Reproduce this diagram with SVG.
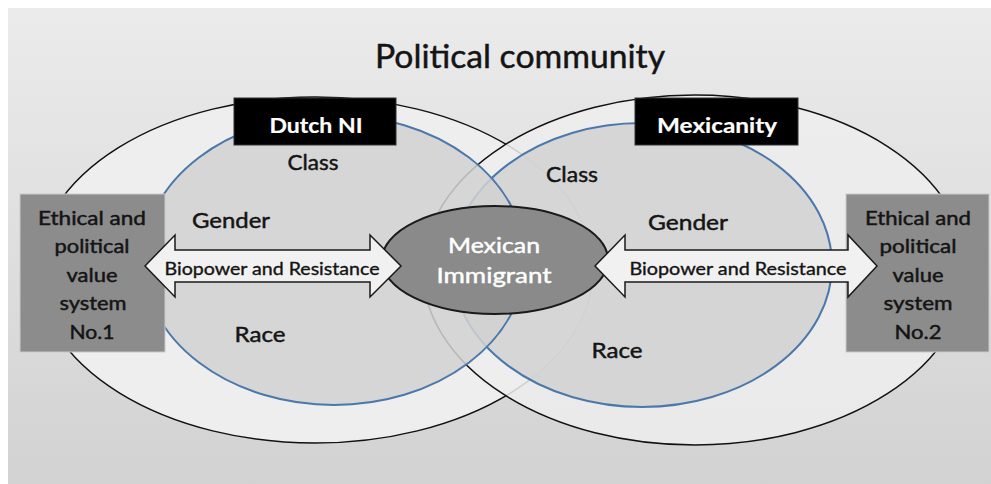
<svg xmlns="http://www.w3.org/2000/svg" width="991" height="484" viewBox="0 0 991 484">
  <defs>
    <linearGradient id="bg" x1="0" y1="0" x2="0" y2="1">
      <stop offset="0" stop-color="#ebebeb"/>
      <stop offset="1" stop-color="#d2d2d2"/>
    </linearGradient>
    <style>
      .txt { font-family: Lato, "Open Sans", "Liberation Sans", sans-serif; fill: #141414; stroke: #141414; stroke-width: 0.45; text-anchor: middle; }
      .lbl { font-size: 21px; }
      .box-txt { font-size: 18.5px; }
      .arrow-txt { font-size: 17.5px; stroke-width: 0.35; }
      .white { fill: #ffffff; stroke: #ffffff; }
      .bold { font-weight: bold; stroke-width: 0.2; }
      .outer { fill: #eeeeee; stroke: #111111; stroke-width: 1.5; }
      .inner { fill: #d2d2d2; fill-opacity: 0.86; stroke: #4a78aa; stroke-width: 2; }
      .system { fill: #8c8c8c; stroke: #c9c9c9; stroke-width: 1; }
      .tag { fill: #000000; stroke: #333333; stroke-width: 1; }
      .arrow { fill: #f1f1f1; stroke: #1a1a1a; stroke-width: 1.5; stroke-linejoin: miter; }
    </style>
  </defs>

  <!-- backdrop -->
  <rect x="0" y="0" width="991" height="484" fill="#ffffff"/>
  <rect x="8" y="8" width="983" height="476" fill="url(#bg)"/>

  <text class="txt" x="520" y="68" font-size="32" stroke-width="0.6" textLength="290" lengthAdjust="spacingAndGlyphs">Political community</text>

  <!-- community rings -->
  <g id="dutch-outer">
    <ellipse class="outer" cx="315" cy="270" rx="278" ry="173"/>
  </g>
  <g id="mexican-outer">
    <ellipse class="outer" cx="695" cy="270" rx="272" ry="175" fill-opacity="0.86"/>
  </g>
  <g id="mexicanity-circle">
    <ellipse class="inner" cx="642" cy="265" rx="190" ry="142"/>
    <text class="txt lbl" x="572" y="182" textLength="52" lengthAdjust="spacingAndGlyphs">Class</text>
    <text class="txt lbl" x="688" y="230" textLength="80" lengthAdjust="spacingAndGlyphs">Gender</text>
    <text class="txt lbl" x="617" y="358" textLength="51" lengthAdjust="spacingAndGlyphs">Race</text>
  </g>
  <g id="dutch-ni-circle">
    <ellipse class="inner" cx="334" cy="260" rx="191" ry="145"/>
    <text class="txt lbl" x="313" y="170" textLength="51" lengthAdjust="spacingAndGlyphs">Class</text>
    <text class="txt lbl" x="231" y="228" textLength="78" lengthAdjust="spacingAndGlyphs">Gender</text>
    <text class="txt lbl" x="260" y="342" textLength="51" lengthAdjust="spacingAndGlyphs">Race</text>
  </g>

  <!-- title tags -->
  <g id="dutch-ni-tag">
    <rect class="tag" x="234" y="98" width="162" height="47"/>
    <text class="txt lbl white bold" x="316" y="133" textLength="93" lengthAdjust="spacingAndGlyphs">Dutch NI</text>
  </g>
  <g id="mexicanity-tag">
    <rect class="tag" x="635" y="98" width="163" height="47"/>
    <text class="txt lbl white bold" x="717" y="133" textLength="120" lengthAdjust="spacingAndGlyphs">Mexicanity</text>
  </g>

  <!-- value systems -->
  <g id="value-system-1">
    <rect class="system" x="20" y="194" width="145" height="158"/>
    <text class="txt box-txt" x="92" y="225" textLength="108" lengthAdjust="spacingAndGlyphs">Ethical and</text>
    <text class="txt box-txt" x="92" y="253" textLength="75" lengthAdjust="spacingAndGlyphs">political</text>
    <text class="txt box-txt" x="92" y="282" textLength="51" lengthAdjust="spacingAndGlyphs">value</text>
    <text class="txt box-txt" x="93" y="310" textLength="67" lengthAdjust="spacingAndGlyphs">system</text>
    <text class="txt box-txt" x="92" y="339" textLength="45" lengthAdjust="spacingAndGlyphs">No.1</text>
  </g>
  <g id="value-system-2">
    <rect class="system" x="846" y="194" width="143" height="158"/>
    <text class="txt box-txt" x="918" y="225" textLength="106" lengthAdjust="spacingAndGlyphs">Ethical and</text>
    <text class="txt box-txt" x="918" y="253" textLength="77" lengthAdjust="spacingAndGlyphs">political</text>
    <text class="txt box-txt" x="918" y="282" textLength="51" lengthAdjust="spacingAndGlyphs">value</text>
    <text class="txt box-txt" x="918" y="310" textLength="69" lengthAdjust="spacingAndGlyphs">system</text>
    <text class="txt box-txt" x="918" y="339" textLength="47" lengthAdjust="spacingAndGlyphs">No.2</text>
  </g>

  <!-- central figure -->
  <g id="mexican-immigrant">
    <ellipse cx="495" cy="260" rx="113" ry="54" fill="#8a8a8a" stroke="#1a1a1a" stroke-width="2"/>
    <text class="txt white" x="494" y="253" font-size="22" stroke-width="0.5" textLength="92" lengthAdjust="spacingAndGlyphs">Mexican</text>
    <text class="txt white" x="494" y="283" font-size="22" stroke-width="0.5" textLength="115" lengthAdjust="spacingAndGlyphs">Immigrant</text>
  </g>

  <!-- double-headed relation arrows -->
  <g id="connectors">
    <g id="arrow-dutch">
      <path class="arrow" d="M145,266 L175,235 L175,250 L370,250 L370,235 L401,266 L370,297 L370,282 L175,282 L175,297 Z"/>
      <text class="txt arrow-txt" x="272" y="275" textLength="215" lengthAdjust="spacingAndGlyphs">Biopower and Resistance</text>
    </g>
    <g id="arrow-mexican">
      <path class="arrow" d="M595,266 L625,235 L625,250 L848,250 L848,235 L877,266 L848,297 L848,282 L625,282 L625,297 Z"/>
      <text class="txt arrow-txt" x="738" y="275" textLength="217" lengthAdjust="spacingAndGlyphs">Biopower and Resistance</text>
    </g>
  </g>
</svg>
